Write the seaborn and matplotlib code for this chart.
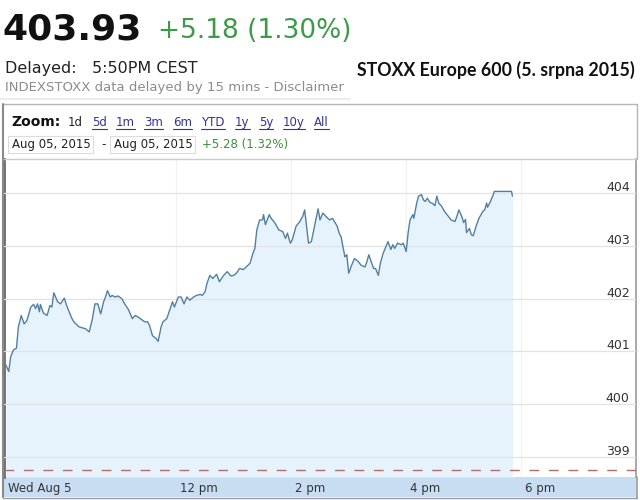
import numpy as np
import pandas as pd
import seaborn as sns
import matplotlib.pyplot as plt
from matplotlib.patches import Rectangle
from matplotlib.lines import Line2D
from matplotlib.transforms import ScaledTranslation

# intraday STOXX Europe 600, 5 Aug 2015 (minutes after 09:00 CEST)
minutes = [2, 5, 7, 10, 13, 15, 18, 21, 24, 28, 31, 33, 35, 37, 38, 41, 45, 48, 50, 52,
           56, 59, 63, 65, 68, 71, 73, 78, 81, 85, 87, 89, 92, 95, 98, 101, 104, 106, 108, 111,
           113, 116, 119, 123, 126, 130, 134, 137, 140, 144, 147, 150, 152, 155, 159, 161, 164, 166, 170, 173,
           176, 178, 182, 185, 188, 191, 194, 198, 201, 205, 207, 210, 212, 215, 218, 222, 225, 229, 233, 237,
           240, 243, 246, 250, 253, 257, 260, 262, 264, 267, 270, 271, 273, 277, 279, 283, 287, 291, 294, 296,
           299, 301, 305, 309, 312, 314, 316, 318, 321, 325, 328, 330, 333, 336, 340, 343, 345, 348, 350, 352,
           354, 356, 358, 360, 363, 366, 370, 373, 377, 379, 381, 384, 386, 388, 391, 393, 396, 398, 401, 404,
           406, 408, 411, 415, 417, 420, 422, 424, 427, 428, 431, 433, 436, 438, 440, 442, 445, 447, 450, 452,
           454, 457, 460, 464, 467, 471, 473, 475, 478, 480, 482, 483, 486, 488, 490, 493, 496, 500, 502, 504,
           505, 508, 511, 512, 530, 531]
prices = [400.74, 400.62, 400.90, 401.03, 401.06, 401.46, 401.68, 401.52, 401.59, 401.84,
          401.89, 401.81, 401.90, 401.75, 401.89, 401.73, 401.68, 401.87, 401.84, 402.11,
          401.94, 401.90, 402.01, 401.89, 401.75, 401.62, 401.56, 401.47, 401.45, 401.43,
          401.40, 401.37, 401.59, 401.90, 401.90, 401.71, 401.94, 402.03, 402.15, 402.03,
          402.06, 402.03, 402.05, 402.00, 401.90, 401.79, 401.62, 401.68, 401.65, 401.60,
          401.56, 401.56, 401.49, 401.30, 401.24, 401.19, 401.46, 401.56, 401.62, 401.78,
          401.94, 401.84, 402.03, 402.03, 401.90, 402.03, 401.97, 402.03, 402.06, 402.08,
          402.06, 402.13, 402.29, 402.44, 402.38, 402.46, 402.32, 402.43, 402.51, 402.43,
          402.44, 402.49, 402.57, 402.55, 402.60, 402.67, 402.86, 402.95, 403.30, 403.49,
          403.49, 403.59, 403.40, 403.59, 403.52, 403.43, 403.30, 403.27, 403.14, 403.24,
          403.05, 403.11, 403.37, 403.46, 403.56, 403.68, 403.37, 403.05, 403.08, 403.43,
          403.70, 403.49, 403.62, 403.56, 403.49, 403.52, 403.46, 403.37, 403.24, 403.17,
          402.98, 402.79, 402.83, 402.48, 402.63, 402.76, 402.70, 402.63, 402.60, 402.70,
          402.83, 402.67, 402.57, 402.57, 402.44, 402.67, 402.86, 402.95, 403.08, 402.93,
          403.02, 402.95, 403.05, 403.02, 403.05, 402.89, 403.24, 403.49, 403.59, 403.52,
          403.81, 403.94, 403.97, 403.87, 403.84, 403.90, 403.82, 403.81, 403.76, 403.94,
          403.81, 403.75, 403.65, 403.56, 403.49, 403.46, 403.56, 403.68, 403.56, 403.44,
          403.50, 403.25, 403.33, 403.21, 403.19, 403.37, 403.52, 403.65, 403.68, 403.81,
          403.73, 403.84, 403.97, 404.03, 404.03, 403.94]
prev_close = 398.75
y_ticks = [399, 400, 401, 402, 403, 404]
x_ticks = [9, 12, 14, 16, 18]
x_labels = ["Wed Aug 5", "12 pm", "2 pm", "4 pm", "6 pm"]
zoom_links = ["1d", "5d", "1m", "3m", "6m", "YTD", "1y", "5y", "10y", "All"]
zoom_x = [68, 92, 116, 144, 173, 201, 235, 259, 283, 314]

df = pd.DataFrame({"hour": 9 + np.array(minutes) / 60, "price": prices})

sns.set_style("white")
plt.rcParams["font.family"] = ["DejaVu Sans"]

W, H = 640, 500
fig = plt.figure(figsize=(6.4, 5), dpi=100)


def fx(px):
    return px / W


def fy(py):
    return 1 - py / H


# chart
ax = fig.add_axes([fx(4), fy(477), fx(636) - fx(4), fy(159) - fy(477)])
ymin = 404 - (477 - 193) / 52.8
ymax = 404 + (193 - 159) / 52.8
ax.fill_between(df["hour"], df["price"], ymin, color="#e6f3fc", lw=0, zorder=1)
sns.lineplot(data=df, x="hour", y="price", ax=ax, color="#527fa3", lw=1, zorder=3)
ax.axhline(prev_close, color="#b86b6b", lw=1, ls=(0, (7, 7)), zorder=4)
ax.set_xlim(9, 20)
ax.set_ylim(ymin, ymax)
ax.set_xlabel("")
ax.set_ylabel("")

ax.set_axisbelow(False)
ax.set_yticks(y_ticks)
ax.set_yticklabels([str(v) for v in y_ticks])
ax.yaxis.tick_right()
ax.tick_params(axis="y", length=0, pad=-4.5, labelsize=9, labelcolor="#333333")
for lab in ax.get_yticklabels():
    lab.set_ha("right")
    lab.set_va("baseline")
    lab.set_transform(lab.get_transform() + ScaledTranslation(0, 2 / 100, fig.dpi_scale_trans))
ax.grid(axis="y", color="#e2e2e2", lw=0.9)
for h in x_ticks[1:]:
    ax.axvline(h, color="#f1f1f1", lw=0.9, zorder=0.5)

ax.set_xticks(x_ticks)
ax.set_xticklabels(x_labels)
ax.tick_params(axis="x", direction="in", length=5, width=1, color="#9a9a9a",
               pad=3.5, labelsize=8.5, labelcolor="#333333")
ax.xaxis.get_major_ticks()[0].tick1line.set_visible(False)
for lab in ax.get_xticklabels():
    lab.set_ha("left")
    lab.set_transform(lab.get_transform() + ScaledTranslation(4 / 100, 0, fig.dpi_scale_trans))

ax.spines["bottom"].set_visible(False)
ax.spines["top"].set_color("#cccccc")
ax.spines["top"].set_linewidth(1)
ax.spines["left"].set_color("#6e6e6e")
ax.spines["left"].set_linewidth(2)
ax.spines["right"].set_color("#9a9a9a")
ax.spines["right"].set_linewidth(1.2)

# time axis band
fig.add_artist(Rectangle((fx(4), fy(497)), fx(636) - fx(4), fy(477) - fy(497),
                         transform=fig.transFigure, facecolor="#c8ddf1", edgecolor="none", zorder=-1))
fig.add_artist(Line2D([fx(3), fx(637)], [fy(497.5), fy(497.5)], color="#9a9a9a", lw=1))
fig.add_artist(Line2D([fx(636.5), fx(636.5)], [fy(477), fy(497.5)], color="#9a9a9a", lw=1.2))

# panel frame
fig.add_artist(Line2D([fx(3), fx(637)], [fy(104), fy(104)], color="#b5b5b5", lw=1))
fig.add_artist(Line2D([fx(3), fx(3)], [fy(104), fy(497)], color="#8a8a8a", lw=1.5))
fig.add_artist(Line2D([fx(637), fx(637)], [fy(104), fy(159)], color="#b5b5b5", lw=1))
fig.add_artist(Line2D([fx(0), fx(350)], [fy(99), fy(99)], color="#ececec", lw=1.5))

# header
fig.text(fx(2), fy(39), "403.93", fontsize=26, fontweight="bold", color="#111111", va="baseline")
fig.text(fx(158), fy(38), "+5.18 (1.30%)", fontsize=19, color="#3d9a48", va="baseline")
fig.text(fx(5), fy(73), "Delayed:   5:50PM CEST", fontsize=11.5, color="#222222", va="baseline")
fig.text(fx(5), fy(91), "INDEXSTOXX data delayed by 15 mins - Disclaimer", fontsize=9.5,
         color="#8c8c8c", va="baseline")
fig.text(fx(357), fy(76), "STOXX Europe 600 (5. srpna 2015)", fontsize=12.8, fontweight="bold",
         family="Lato", color="#111111", va="baseline")

# zoom row
fig.text(fx(11), fy(126), "Zoom:", fontsize=10, fontweight="bold", color="#111111", va="baseline")
link_texts = []
for name, px in zip(zoom_links, zoom_x):
    t = fig.text(fx(px), fy(126), name, fontsize=8.5, va="baseline",
                 color="#222222" if name == "1d" else "#33339a")
    link_texts.append(t)

# date row
for x0, x1 in [(8, 93), (110, 195)]:
    fig.add_artist(Rectangle((fx(x0), fy(153)), fx(x1) - fx(x0), fy(136) - fy(153),
                             transform=fig.transFigure, facecolor="white", edgecolor="#dcdcdc", lw=0.8))
fig.text(fx(12), fy(148), "Aug 05, 2015", fontsize=8.5, color="#222222", va="baseline")
fig.text(fx(101), fy(148), "-", fontsize=8.5, color="#222222", va="baseline")
fig.text(fx(114), fy(148), "Aug 05, 2015", fontsize=8.5, color="#222222", va="baseline")
fig.text(fx(202), fy(148), "+5.28 (1.32%)", fontsize=8.5, color="#3a8f3a", va="baseline")

# underline the zoom links
fig.canvas.draw()
for t in link_texts[1:]:
    bb = t.get_window_extent()
    fig.add_artist(Line2D([fx(bb.x0), fx(bb.x1)], [fy(128.5), fy(128.5)], color="#33339a", lw=0.8))

fig.savefig("out.png", dpi=100)
